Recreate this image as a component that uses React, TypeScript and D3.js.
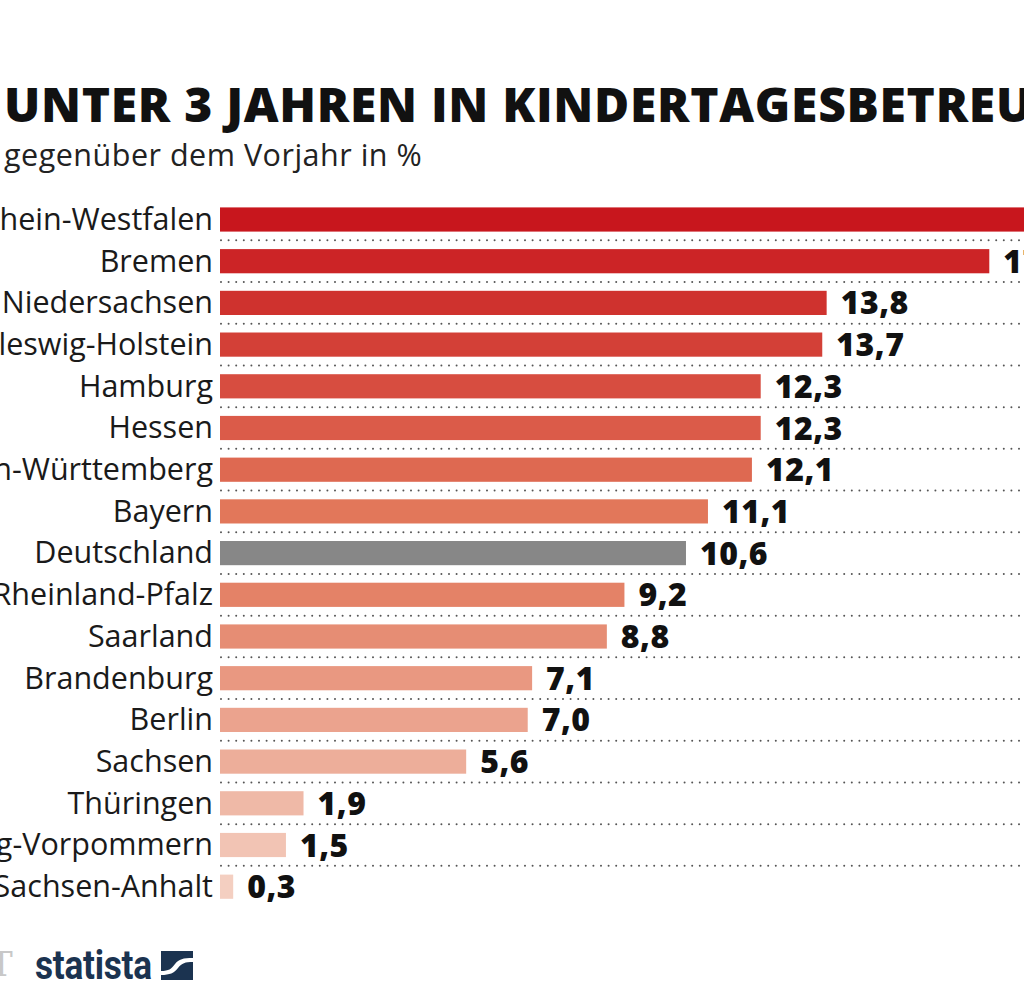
import React from "react";
import * as d3 from "d3";

const states = [
  "Nordrhein-Westfalen",
  "Bremen",
  "Niedersachsen",
  "Schleswig-Holstein",
  "Hamburg",
  "Hessen",
  "Baden-Württemberg",
  "Bayern",
  "Deutschland",
  "Rheinland-Pfalz",
  "Saarland",
  "Brandenburg",
  "Berlin",
  "Sachsen",
  "Thüringen",
  "Mecklenburg-Vorpommern",
  "Sachsen-Anhalt",
];
const values = [19.6, 17.5, 13.8, 13.7, 12.3, 12.3, 12.1, 11.1, 10.6, 9.2, 8.8, 7.1, 7.0, 5.6, 1.9, 1.5, 0.3];
const title = "UNTER 3 JAHREN IN KINDERTAGESBETREUUNG";
const subtitle = "gegenüber dem Vorjahr in %";
const highlight = "Deutschland";

const W = 1024;
const H = 1001;

export default function App() {
  const x = d3.scaleLinear().domain([0, 20]).range([220, 220 + 20 * 43.96]);
  const y = d3
    .scaleBand<string>()
    .domain(states)
    .range([198.65, 198.65 + states.length * 41.7])
    .paddingInner(0.42)
    .paddingOuter(0.21);
  const step = y.step();
  const color = d3
    .scaleLinear<string>()
    .domain([0, 7, 16])
    .range(["#c8161d", "#e2775a", "#f6dace"])
    .interpolate(d3.interpolateRgb);
  const fmt = (v: number) => v.toFixed(1).replace(".", ",");
  const font = "'Open Sans', 'DejaVu Sans', sans-serif";

  return (
    <svg
      width={W}
      height={H}
      style={{ position: "absolute", left: 0, top: 0, background: "#fff" }}
      fontFamily={font}
    >
      <text x={4} y={122} fontSize={48} fontWeight={800} fill="#111" letterSpacing={0.7}>
        {title}
      </text>
      <text x={4} y={166} fontSize={30.5} fill="#222" letterSpacing={0.5}>
        {subtitle}
      </text>

      {states.slice(0, -1).map((s, i) => {
        const yy = (y(s) as number) + y.bandwidth() / 2 + step / 2;
        return (
          <line
            key={"d" + i}
            x1={221}
            x2={W}
            y1={yy}
            y2={yy}
            stroke="#555"
            strokeWidth={2}
            strokeLinecap="round"
            strokeDasharray="0 7.6"
          />
        );
      })}

      {states.map((s, i) => {
        const v = values[i];
        const y0 = y(s) as number;
        const cy = y0 + y.bandwidth() / 2;
        const fill = s === highlight ? "#878787" : color(i > 8 ? i - 1 : i);
        return (
          <g key={s}>
            <rect x={x(0)} y={y0} width={x(v) - x(0)} height={y.bandwidth()} fill={fill} />
            <text
              x={213}
              y={cy}
              dy="0.34em"
              textAnchor="end"
              fontSize={30.5}
              fill="#1a1a1a"
            >
              {s}
            </text>
            <text
              x={x(v) + 14}
              y={cy}
              dy="0.36em"
              fontSize={32}
              fontWeight={800}
              fill="#111"
              letterSpacing={0.5}
            >
              {fmt(v)}
            </text>
          </g>
        );
      })}

      <text x={-10} y={976} fontFamily="'DejaVu Serif', serif" fontSize={34} fill="#c8c8c8">
        T
      </text>
      <text
        x={35}
        y={979}
        fontFamily="Roboto, sans-serif"
        fontSize={40}
        fontWeight={700}
        fill="#1b3350"
        transform="translate(35 0) scale(0.88 1) translate(-35 0)"
        letterSpacing={-0.3}
      >
        statista
      </text>
      <g transform="translate(161 951)">
        <rect width={32} height={29} fill="#1b3350" />
        <path
          d="M0,20 C8,20 10,18 14,13 C18,8 22,7 32,7 L32,11 C24,11 21,12 17,17 C13,22 9,24 0,24 Z"
          fill="#fff"
        />
      </g>
    </svg>
  );
}
